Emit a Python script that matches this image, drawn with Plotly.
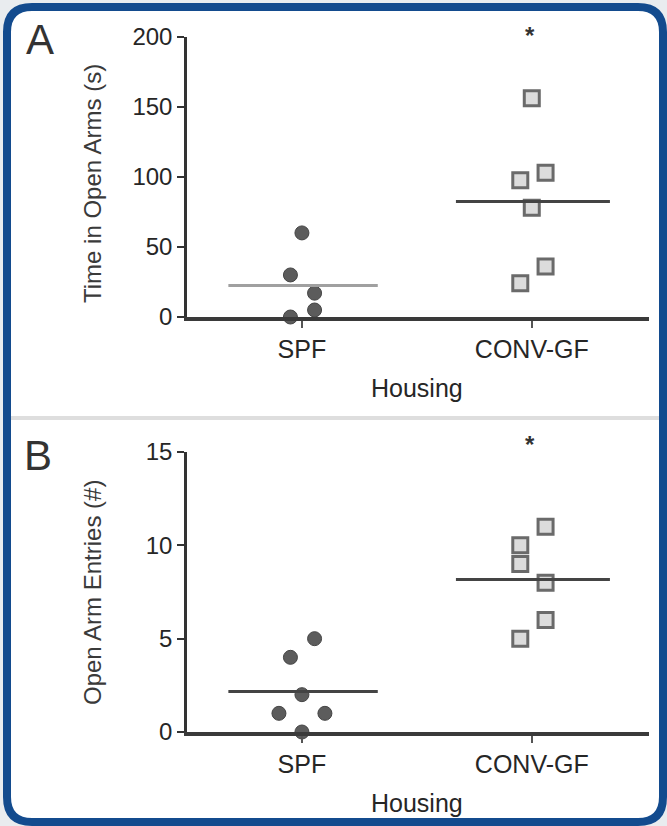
import numpy as np
import plotly.graph_objects as go

# ---------------- data ----------------
groups = ["SPF", "CONV-GF"]

# Panel A: Time in Open Arms (s)
a_spf = [60, 30, 17, 5, 0]
a_conv = [156, 97.5, 103, 78, 24, 36]
# Panel B: Open Arm Entries (#)
b_spf = [5, 4, 2, 1, 1, 0]
b_conv = [11, 10, 9, 8, 6, 5]

# horizontal spread of overlapping dots (in category units)
a_spf_jit = [0.0, -0.05, 0.055, 0.055, -0.05]
a_conv_jit = [0.0, -0.05, 0.06, 0.0, -0.05, 0.06]
b_spf_jit = [0.055, -0.05, 0.0, -0.1, 0.1, 0.0]
b_conv_jit = [0.06, -0.05, -0.05, 0.06, 0.06, -0.05]

a_ticks = [0, 50, 100, 150, 200]
b_ticks = [0, 5, 10, 15]

W, H = 667, 826
FONT = "Liberation Sans, Arial, sans-serif"
TXT = "#262626"

fig = go.Figure()


def px_x(p):
    return p / W


def px_y(p):
    return 1 - p / H


def add_panel(spf, conv, spf_jit, conv_jit, xa, ya, spf_line_color):
    fig.add_trace(go.Scatter(
        x=[0 + j for j in spf_jit], y=spf, mode="markers", xaxis=xa, yaxis=ya,
        marker=dict(symbol="circle", size=14, color="#5c5c5c",
                    line=dict(color="#444", width=1)),
        cliponaxis=False, showlegend=False, hoverinfo="y"))
    fig.add_trace(go.Scatter(
        x=[1 + j for j in conv_jit], y=conv, mode="markers", xaxis=xa, yaxis=ya,
        marker=dict(symbol="square", size=15, color="#dcdcdc",
                    line=dict(color="#6a6a6a", width=3)),
        cliponaxis=False, showlegend=False, hoverinfo="y"))
    m1, m2 = float(np.mean(spf)), float(np.mean(conv))
    fig.add_trace(go.Scatter(
        x=[-0.32, 0.33], y=[m1, m1], mode="lines", xaxis=xa, yaxis=ya,
        line=dict(color=spf_line_color, width=3), cliponaxis=False,
        showlegend=False, hoverinfo="skip"))
    fig.add_trace(go.Scatter(
        x=[0.67, 1.34], y=[m2, m2], mode="lines", xaxis=xa, yaxis=ya,
        line=dict(color="#444", width=3), cliponaxis=False,
        showlegend=False, hoverinfo="skip"))


add_panel(a_spf, a_conv, a_spf_jit, a_conv_jit, "x", "y", "#a0a0a0")
add_panel(b_spf, b_conv, b_spf_jit, b_conv_jit, "x2", "y2", "#444")

xdom = [px_x(187), px_x(649)]
xcommon = dict(range=[-0.5, 1.51], tickvals=[0, 1], ticktext=groups,
               showline=True, linecolor="#3a3a3a", linewidth=4,
               ticks="outside", ticklen=7, tickwidth=2, tickcolor="#555",
               showgrid=False, zeroline=False, fixedrange=True, automargin=False,
               tickfont=dict(family=FONT, size=25, color=TXT), domain=xdom)
ycommon = dict(showline=True, linecolor="#333", linewidth=2.5,
               ticks="outside", ticklen=7, tickwidth=2, tickcolor="#333",
               showgrid=False, zeroline=False, fixedrange=True, automargin=False,
               tickfont=dict(family=FONT, size=24, color=TXT))

fig.update_layout(
    width=W, height=H,
    margin=dict(l=0, r=0, t=0, b=0, pad=0, autoexpand=False),
    paper_bgcolor="#e9ecef",
    plot_bgcolor="rgba(0,0,0,0)",
    xaxis=dict(xcommon, anchor="y"),
    yaxis=dict(ycommon, range=[0, 200], tickvals=a_ticks, anchor="x",
               domain=[px_y(317), px_y(36.7)]),
    xaxis2=dict(xcommon, anchor="y2"),
    yaxis2=dict(ycommon, range=[0, 15], tickvals=b_ticks, anchor="x2",
                domain=[px_y(732), px_y(452)]),
)

# rounded blue frame
x0, x1 = px_x(7), px_x(663)
yT, yB = px_y(7), px_y(822)
rx, ry = 25 / W, 25 / H
path = (f"M {x0+rx},{yT} L {x1-rx},{yT} Q {x1},{yT} {x1},{yT-ry} "
        f"L {x1},{yB+ry} Q {x1},{yB} {x1-rx},{yB} L {x0+rx},{yB} "
        f"Q {x0},{yB} {x0},{yB+ry} L {x0},{yT-ry} Q {x0},{yT} {x0+rx},{yT} Z")
fig.add_shape(type="path", path=path, xref="paper", yref="paper",
              fillcolor="white", line=dict(color="#134b8e", width=8), layer="below")
# separator between panels
fig.add_shape(type="line", xref="paper", yref="paper",
              x0=px_x(11), x1=px_x(659), y0=px_y(418), y1=px_y(418),
              line=dict(color="#dedede", width=4), layer="below")

ann = []
# panel letters
ann.append(dict(text="A", x=px_x(40), y=px_y(40), font=dict(size=42, color="#333")))
ann.append(dict(text="B", x=px_x(38), y=px_y(455), font=dict(size=42, color="#333")))
# y titles
ann.append(dict(text="Time in Open Arms (s)", x=px_x(92), y=px_y(184), textangle=-90,
                font=dict(size=24, color="#3a3a3a")))
ann.append(dict(text="Open Arm Entries (#)", x=px_x(92), y=px_y(593), textangle=-90,
                font=dict(size=24, color="#3a3a3a")))
# x titles
ann.append(dict(text="Housing", x=px_x(417), y=px_y(388), font=dict(size=25, color=TXT)))
ann.append(dict(text="Housing", x=px_x(417), y=px_y(803), font=dict(size=25, color=TXT)))
# significance stars
ann.append(dict(text="<b>*</b>", x=px_x(530), y=px_y(35), font=dict(size=24, color="#333")))
ann.append(dict(text="<b>*</b>", x=px_x(530), y=px_y(445), font=dict(size=24, color="#333")))

for a in ann:
    a.setdefault("xref", "paper")
    a.setdefault("yref", "paper")
    a["showarrow"] = False
    a["xanchor"] = "center"
    a["yanchor"] = "middle"
    a["font"]["family"] = FONT
    fig.add_annotation(**a)

fig.write_html("out.html",
               config={"displayModeBar": False},
               post_script="document.body.style.margin='0';"
                           "document.body.style.overflow='hidden';")
